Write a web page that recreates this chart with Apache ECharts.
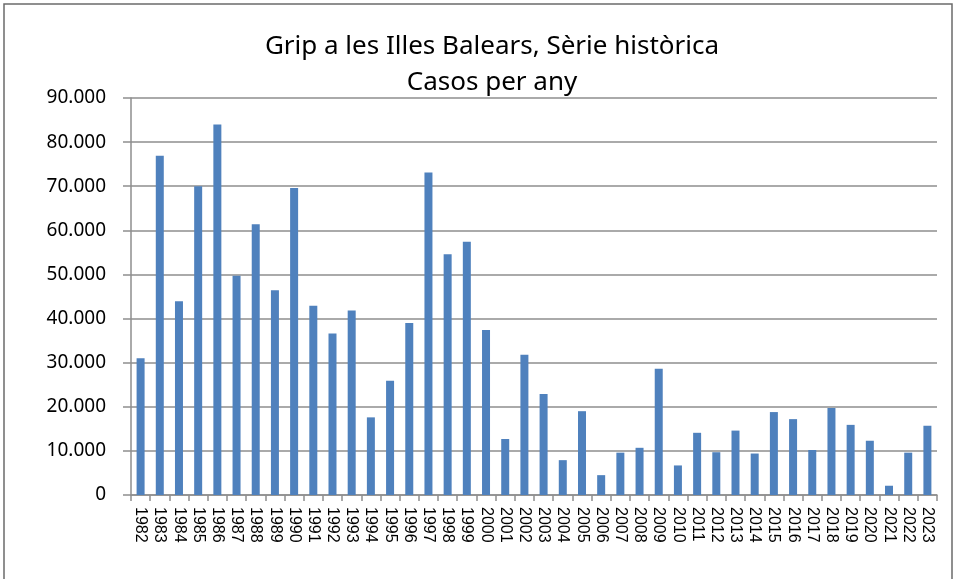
<!DOCTYPE html>
<html>
<head>
<meta charset="utf-8">
<title>Grip a les Illes Balears</title>
<script src="https://cdn.jsdelivr.net/npm/echarts@6/dist/echarts.min.js"></script>
<style>
  html, body { margin: 0; padding: 0; background: #fff; }
  #main { width: 955px; height: 579px; }
</style>
</head>
<body>
<div id="main"></div>
<script>
// anys
var years = ['1982', '1983', '1984', '1985', '1986', '1987', '1988', '1989', '1990', '1991',
  '1992', '1993', '1994', '1995', '1996', '1997', '1998', '1999', '2000', '2001',
  '2002', '2003', '2004', '2005', '2006', '2007', '2008', '2009', '2010', '2011',
  '2012', '2013', '2014', '2015', '2016', '2017', '2018', '2019', '2020', '2021',
  '2022', '2023']
// casos per any (llegits del gràfic)
var cases = [31000, 76900, 43900, 70000, 84000, 49700, 61400, 46400, 69600, 42900,
  36600, 41800, 17600, 25900, 39000, 73100, 54600, 57400, 37400, 12700,
  31800, 22900, 7900, 19000, 4500, 9600, 10700, 28600, 6700, 14100,
  9700, 14600, 9400, 18800, 17200, 10200, 19700, 15900, 12300, 2100,
  9600, 15700]
var yMax = 90000
var yStep = 10000

var myChart = echarts.init(document.getElementById('main'))

function fmt(v) {
  // separador de milers amb punt
  return String(v).replace(/\B(?=(\d{3})+(?!\d))/g, '.')
}

var option = {
  animation: false,
  backgroundColor: '#fff',
  graphic: [{
    type: 'rect',
    shape: { x: 4, y: 4, width: 948, height: 600 },
    style: { fill: 'none', stroke: '#6b6b6b', lineWidth: 1.5 },
    silent: true
  }],
  title: [
    {
      text: 'Grip a les Illes Balears, Sèrie històrica',
      left: 487,
      top: 29,
      textAlign: 'center',
      textStyle: { fontFamily: 'Noto Sans', fontSize: 26, fontWeight: 'normal', color: '#000' }
    },
    {
      text: 'Casos per any',
      left: 487,
      top: 65,
      textAlign: 'center',
      textStyle: { fontFamily: 'Noto Sans', fontSize: 26, fontWeight: 'normal', color: '#000' }
    }
  ],
  grid: {
    left: 131,
    right: 18,
    top: 98,
    bottom: 84,
    containLabel: false
  },
  xAxis: {
    type: 'category',
    data: years,
    boundaryGap: true,
    axisLine: { lineStyle: { color: '#8e8e8e', width: 1.5 } },
    axisTick: { show: true, alignWithLabel: false, length: 6, lineStyle: { color: '#8e8e8e', width: 1.5 } },
    axisLabel: {
      interval: 0,
      rotate: -90,
      margin: 12,
      fontFamily: 'Liberation Sans',
      fontSize: 16,
      color: '#000'
    },
    splitLine: { show: false }
  },
  yAxis: {
    type: 'value',
    min: 0,
    max: yMax,
    interval: yStep,
    axisLine: { show: true, lineStyle: { color: '#8e8e8e', width: 1.5 } },
    axisTick: { show: true, length: 8, lineStyle: { color: '#8e8e8e', width: 1.5 } },
    axisLabel: {
      formatter: fmt,
      margin: 25,
      fontFamily: 'Noto Sans',
      fontSize: 19,
      color: '#000'
    },
    splitLine: { show: true, lineStyle: { color: '#8e8e8e', width: 1.5 } }
  },
  series: [
    {
      name: 'Casos',
      type: 'bar',
      data: cases,
      barWidth: 8,
      itemStyle: { color: '#4f81bd' }
    }
  ]
}

myChart.setOption(option)
</script>
</body>
</html>
